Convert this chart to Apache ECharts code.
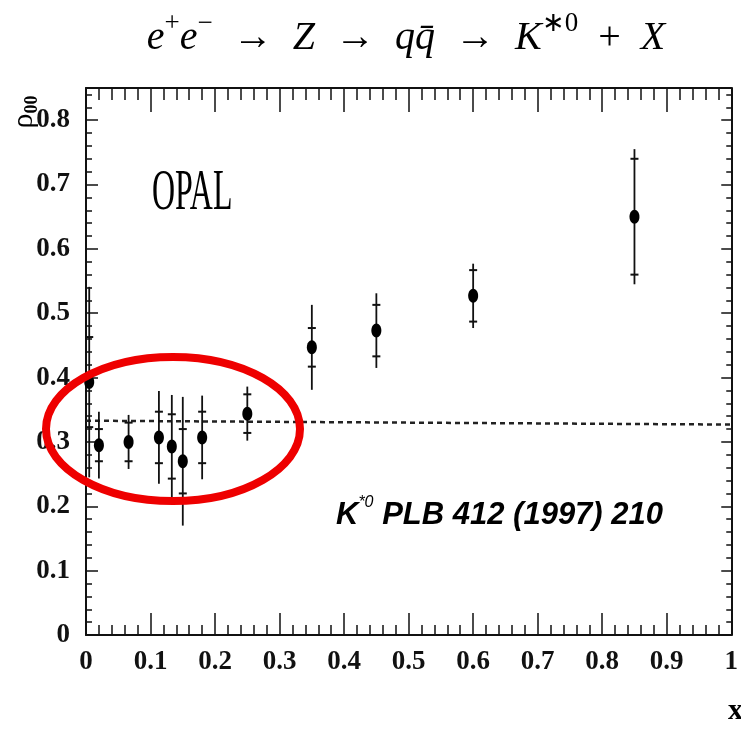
<!DOCTYPE html>
<html>
<head>
<meta charset="utf-8">
<script src="https://cdn.jsdelivr.net/npm/echarts@6/dist/echarts.min.js"></script>
<style>
html,body{margin:0;padding:0;background:#fff;}
#chart{width:741px;height:740px;}
</style>
</head>
<body>
<div id="chart"></div>
<script>
// ---- data ----
const xp = [0.005, 0.02, 0.066, 0.113, 0.133, 0.15, 0.18, 0.25, 0.35, 0.45, 0.60, 0.85];
const rho00 = [0.393, 0.295, 0.300, 0.307, 0.293, 0.270, 0.307, 0.344, 0.447, 0.473, 0.527, 0.650];
const statErr = [0.07, 0.025, 0.03, 0.04, 0.05, 0.05, 0.04, 0.03, 0.03, 0.04, 0.04, 0.09];
const totErr = [0.148, 0.052, 0.042, 0.072, 0.08, 0.10, 0.065, 0.042, 0.066, 0.058, 0.05, 0.105];
const refLineX = [0, 1];
const refLineY = [0.333, 0.327];
const xTickLabels = ['0', '0.1', '0.2', '0.3', '0.4', '0.5', '0.6', '0.7', '0.8', '0.9', '1'];
const yTickLabels = ['0', '0.1', '0.2', '0.3', '0.4', '0.5', '0.6', '0.7', '0.8'];

const points = xp.map((x, i) => [x, rho00[i], statErr[i], totErr[i]]);
const refLine = refLineX.map((x, i) => [x, refLineY[i]]);

const serif = "'Liberation Serif', 'Times New Roman', serif";
const sans = "'Liberation Sans', Arial, sans-serif";

function xFmt(v) {
  const i = Math.round(v * 10);
  return Math.abs(v * 10 - i) < 1e-6 && xTickLabels[i] !== undefined ? xTickLabels[i] : '';
}
function yFmt(v) {
  const i = Math.round(v * 10);
  return Math.abs(v * 10 - i) < 1e-6 && yTickLabels[i] !== undefined ? yTickLabels[i] : '';
}

const axisCommon = {
  type: 'value',
  axisLine: { show: true, onZero: false, lineStyle: { color: '#111', width: 2 } },
  splitLine: { show: false },
  minorSplitLine: { show: false }
};

const chart = echarts.init(document.getElementById('chart'), null, { renderer: 'canvas' });

const sp = '\u2002';
const option = {
  backgroundColor: '#fff',
  animation: false,
  grid: { left: 86, right: 2, top: 88, bottom: 105, containLabel: false },
  xAxis: [
    Object.assign({}, axisCommon, {
      position: 'bottom', min: 0, max: 1, interval: 0.1,
      axisTick: { show: true, inside: true, length: 22, lineStyle: { color: '#111', width: 1.5 } },
      minorTick: { show: true, splitNumber: 5, length: 10, lineStyle: { color: '#111', width: 1.5 } },
      axisLabel: { show: true, margin: 14, formatter: xFmt, fontFamily: serif, fontWeight: 'bold', fontSize: 27, color: '#111' }
    }),
    Object.assign({}, axisCommon, {
      position: 'top', min: 0, max: 1, interval: 0.1,
      axisTick: { show: true, inside: true, length: 24, lineStyle: { color: '#111', width: 1.5 } },
      minorTick: { show: true, splitNumber: 5, length: 12, lineStyle: { color: '#111', width: 1.5 } },
      axisLabel: { show: false }
    })
  ],
  yAxis: [
    Object.assign({}, axisCommon, {
      position: 'left', min: 0, max: 0.85, interval: 0.1,
      axisTick: { show: true, inside: true, length: 12, lineStyle: { color: '#111', width: 1.5 } },
      minorTick: { show: true, splitNumber: 5, length: 6, lineStyle: { color: '#111', width: 1.5 } },
      axisLabel: { show: true, margin: 16, formatter: yFmt, fontFamily: serif, fontWeight: 'bold', fontSize: 27, color: '#111' }
    }),
    Object.assign({}, axisCommon, {
      position: 'right', min: 0, max: 0.85, interval: 0.1,
      axisTick: { show: true, inside: true, length: 10, lineStyle: { color: '#111', width: 1.5 } },
      minorTick: { show: true, splitNumber: 5, length: 5, lineStyle: { color: '#111', width: 1.5 } },
      axisLabel: { show: false }
    })
  ],
  series: [
    {
      type: 'line',
      xAxisIndex: 0, yAxisIndex: 0,
      data: refLine,
      symbol: 'none',
      lineStyle: { color: '#222', width: 2.5, type: [5, 4] },
      z: 2
    },
    {
      type: 'custom',
      xAxisIndex: 0, yAxisIndex: 0,
      data: points,
      z: 5,
      renderItem: function (params, api) {
        const x = api.value(0), y = api.value(1), s = api.value(2), t = api.value(3);
        const c = api.coord([x, y]);
        const hi = api.coord([x, y + t]);
        const lo = api.coord([x, y - t]);
        const sh = api.coord([x, y + s]);
        const sl = api.coord([x, y - s]);
        const st = { stroke: '#111', lineWidth: 1.8 };
        return {
          type: 'group',
          children: [
            { type: 'line', shape: { x1: c[0], y1: hi[1], x2: c[0], y2: lo[1] }, style: st },
            { type: 'line', shape: { x1: c[0] - 4, y1: sh[1], x2: c[0] + 4, y2: sh[1] }, style: { stroke: '#111', lineWidth: 2 } },
            { type: 'line', shape: { x1: c[0] - 4, y1: sl[1], x2: c[0] + 4, y2: sl[1] }, style: { stroke: '#111', lineWidth: 2 } },
            { type: 'ellipse', shape: { cx: c[0], cy: c[1], rx: 5, ry: 7 }, style: { fill: '#000' } }
          ]
        };
      }
    }
  ],
  graphic: [
    {
      type: 'text', x: 406, y: 10, z: 10,
      style: {
        text: '{i|e}{sup|+}{i|e}{sup|−}{r|' + sp + '→' + sp + '}{i|Z}{r|' + sp + '→' + sp + '}{i|q}{i|q̄}{r|' + sp + '→' + sp + '}{i|K}{sup|∗0}{r|' + sp + '+' + sp + '}{i|X}',
        align: 'center', verticalAlign: 'top',
        rich: {
          i: { fontFamily: serif, fontStyle: 'italic', fontSize: 40, color: '#000', verticalAlign: 'bottom', lineHeight: 48 },
          r: { fontFamily: serif, fontSize: 40, color: '#000', verticalAlign: 'bottom', lineHeight: 48 },
          sup: { fontFamily: serif, fontSize: 27, color: '#000', verticalAlign: 'top', lineHeight: 48 }
        }
      }
    },
    {
      type: 'text', x: 152, y: 166, scaleX: 0.57, z: 10,
      style: { text: 'OPAL', fontFamily: serif, fontSize: 56, fill: '#000', verticalAlign: 'top' }
    },
    {
      type: 'text', x: 336, y: 495, z: 10,
      style: {
        text: '{k|K}{s|*0}{t| PLB 412 (1997) 210}',
        verticalAlign: 'top',
        rich: {
          k: { fontFamily: sans, fontStyle: 'italic', fontWeight: 'bold', fontSize: 31, color: '#000', verticalAlign: 'bottom', lineHeight: 36 },
          s: { fontFamily: sans, fontStyle: 'italic', fontSize: 16, color: '#000', verticalAlign: 'top', lineHeight: 36 },
          t: { fontFamily: sans, fontStyle: 'italic', fontWeight: 'bold', fontSize: 31, color: '#000', verticalAlign: 'bottom', lineHeight: 36 }
        }
      }
    },
    {
      type: 'text', x: 25, y: 112, rotation: Math.PI / 2, z: 10,
      style: {
        text: '{r|ρ}{s|00}',
        align: 'center', verticalAlign: 'middle',
        rich: {
          r: { fontFamily: serif, fontSize: 30, color: '#000', verticalAlign: 'top', lineHeight: 32 },
          s: { fontFamily: serif, fontWeight: 'bold', fontSize: 18, color: '#000', verticalAlign: 'bottom', lineHeight: 32 }
        }
      }
    },
    {
      type: 'text', x: 728, y: 696, z: 10,
      style: {
        text: '{x|x}{p|p}',
        verticalAlign: 'top',
        rich: {
          x: { fontFamily: serif, fontWeight: 'bold', fontSize: 30, color: '#000', verticalAlign: 'top', lineHeight: 36 },
          p: { fontFamily: serif, fontWeight: 'bold', fontSize: 16, color: '#000', verticalAlign: 'bottom', lineHeight: 36 }
        }
      }
    },
    {
      type: 'ellipse', z: 20,
      shape: { cx: 173, cy: 429, rx: 127, ry: 72 },
      style: { fill: 'none', stroke: '#ee0000', lineWidth: 8 }
    }
  ]
};
chart.setOption(option);
</script>
</body>
</html>
